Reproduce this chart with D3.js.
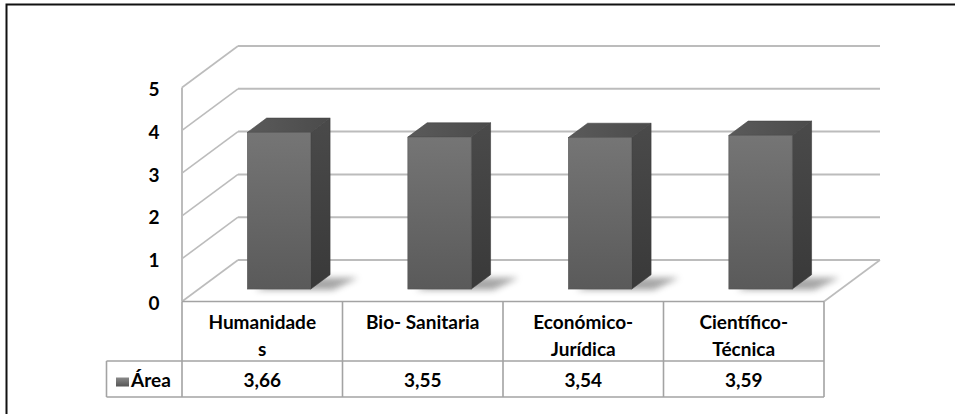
<!DOCTYPE html>
<html><head><meta charset="utf-8">
<script src="https://cdn.jsdelivr.net/npm/d3@7"></script>
<style>
body{margin:0;background:#fff}
svg{display:block}
text{font-family:Lato,'Open Sans',sans-serif;font-weight:700;fill:#000}
</style></head>
<body><svg id="c" width="955" height="414"></svg>
<script>
// ---- data ----
const categories = ["Humanidades","Bio-Sanitaria","Económico-Jurídica","Científico-Técnica"];
const categoryLines = [["Humanidade","s"],["Bio- Sanitaria"],["Económico-","Jurídica"],["Científico-","Técnica"]];
const values = [3.66, 3.55, 3.54, 3.59];
const valueLabels = ["3,66","3,55","3,54","3,59"];
const yTicks = [0,1,2,3,4,5];
const seriesName = "Área";

// ---- layout ----
const svg = d3.select("#c");
const W = 955, H = 414;
const x = d3.scaleBand().domain(categories).range([182, 824]);
const y = d3.scaleLinear().domain([0,5]).range([301.5, 87.5]);
const DX = 56, DY = -41.5;         // depth offset of back wall
const f0 = 0.30, f1 = 0.645;       // bar front/back depth fractions
const bwFrac = 0.395;
const gridCol = "#bcbcbc";
const tableCol = "#a3a3a3";
const fs = 19;

const defs = svg.append("defs");
function lg(id, dir, stops){
  const g = defs.append("linearGradient").attr("id", id)
    .attr("x1",0).attr("y1",0).attr("x2",dir==="h"?1:0).attr("y2",dir==="h"?0:1);
  stops.forEach(s=>g.append("stop").attr("offset",s[0]).attr("stop-color",s[1]));
}
lg("gFront","v",[[0,"#757575"],[1,"#5a5a5a"]]);
lg("gSide","v",[[0,"#4a4a4a"],[1,"#393939"]]);
lg("gTop","h",[[0,"#5a5a5a"],[1,"#4b4b4b"]]);
lg("gKey","v",[[0,"#8a8a8a"],[1,"#555"]]);
defs.append("filter").attr("id","blur").attr("x","-50%").attr("y","-50%").attr("width","200%").attr("height","200%")
  .append("feGaussianBlur").attr("stdDeviation",3.2);

// frame
svg.append("rect").attr("x",6.5).attr("y",4.5).attr("width",W+20).attr("height",H+20)
  .attr("fill","none").attr("stroke","#111").attr("stroke-width",2);

const x0 = x.range()[0], x1 = x.range()[1];
const g = svg.append("g");

// back wall gridlines + left wall diagonals
yTicks.forEach(t=>{
  g.append("line").attr("x1",x0+DX).attr("x2",x1+DX).attr("y1",y(t)+DY).attr("y2",y(t)+DY)
    .attr("stroke",gridCol).attr("stroke-width",2);
  g.append("line").attr("x1",x0).attr("x2",x0+DX).attr("y1",y(t)).attr("y2",y(t)+DY)
    .attr("stroke",gridCol).attr("stroke-width",1.6);
});
// left wall front vertical
g.append("line").attr("x1",x0).attr("x2",x0).attr("y1",y(5)).attr("y2",y(0))
  .attr("stroke",gridCol).attr("stroke-width",2);
// floor right edge
g.append("line").attr("x1",x1).attr("x2",x1+DX).attr("y1",y(0)).attr("y2",y(0)+DY)
  .attr("stroke",gridCol).attr("stroke-width",1.6);

// y tick labels
svg.append("g").selectAll("text").data(yTicks).join("text")
  .attr("x",154).attr("y",d=>y(d)+1).attr("text-anchor","middle").attr("dominant-baseline","central")
  .attr("font-size",fs).text(d=>d);

// bars
const bars = svg.append("g");
categories.forEach((c,i)=>{
  const bw = x.bandwidth()*bwFrac;
  const cx = x(c) + x.bandwidth()/2;
  const fx = cx - bw/2 + f0*DX, fr = fx + bw;
  const fyTop = y(values[i]) + f0*DY, fyBot = y(0) + f0*DY;
  const ddx = (f1-f0)*DX, ddy = (f1-f0)*DY;
  // shadow on floor
  const sh = [[fx+8, fyBot+1],[fr+22, fyBot+1],[fr+ddx+28, fyBot+ddy+3],[fx+ddx+12, fyBot+ddy+3]];
  bars.append("polygon").attr("points",sh.map(p=>p.join(",")).join(" "))
    .attr("fill","#808080").attr("opacity",0.7).attr("filter","url(#blur)");
  // side
  bars.append("polygon").attr("points",[[fr,fyTop],[fr+ddx,fyTop+ddy],[fr+ddx,fyBot+ddy],[fr,fyBot]].map(p=>p.join(",")).join(" "))
    .attr("fill","url(#gSide)").attr("stroke","#3a3a3a").attr("stroke-width",0.6);
  // top
  bars.append("polygon").attr("points",[[fx,fyTop],[fx+ddx,fyTop+ddy],[fr+ddx,fyTop+ddy],[fr,fyTop]].map(p=>p.join(",")).join(" "))
    .attr("fill","url(#gTop)").attr("stroke","#444").attr("stroke-width",0.6);
  // front
  bars.append("rect").attr("x",fx).attr("y",fyTop).attr("width",bw).attr("height",fyBot-fyTop)
    .attr("fill","url(#gFront)").attr("stroke","#555").attr("stroke-width",0.6);
});

// data table
const tb = svg.append("g");
const rowTop = y(0), rowMid = 361, rowBot = 397, legLeft = 106.5;
const tl = (x1_,y1_,x2_,y2_)=>tb.append("line").attr("x1",x1_).attr("y1",y1_).attr("x2",x2_).attr("y2",y2_)
  .attr("stroke",tableCol).attr("stroke-width",1.6);
tl(x0,rowTop,x1,rowTop);
tl(legLeft,rowMid,x1,rowMid);
tl(legLeft,rowBot,x1,rowBot);
tl(legLeft,rowMid,legLeft,rowBot);
categories.forEach(c=>tl(x(c),rowTop,x(c),rowBot));
tl(x1,rowTop,x1,rowBot);

categories.forEach((c,i)=>{
  const cx = x(c)+x.bandwidth()/2;
  categoryLines[i].forEach((ln,j)=>{
    tb.append("text").attr("x",cx).attr("y",329+j*27).attr("text-anchor","middle")
      .attr("font-size",fs).text(ln);
  });
  tb.append("text").attr("x",cx).attr("y",387).attr("text-anchor","middle")
    .attr("font-size",fs).text(valueLabels[i]);
});
// legend key
tb.append("rect").attr("x",116).attr("y",377.5).attr("width",13).attr("height",9).attr("fill","url(#gKey)");
tb.append("text").attr("x",131).attr("y",387).attr("font-size",fs).text(seriesName);
</script>
</body></html>
